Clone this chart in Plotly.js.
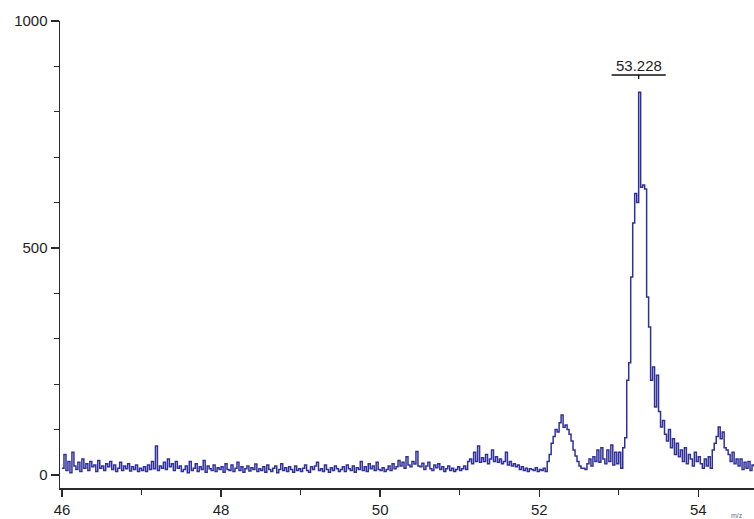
<!DOCTYPE html>
<html>
<head>
<meta charset="utf-8">
<script src="https://cdn.plot.ly/plotly-3.0.1.min.js"></script>
<style>html,body{margin:0;padding:0;background:#fff;}#chart{width:754px;height:519px;}</style>
</head>
<body>
<div id="chart"></div>
<script>
// m/z sampling of the spectrum
const mzStart = 46.0;
const mzStep = 0.025;
// intensity values, 0.5 m/z per row
const intensity = [
  15, 45, 10, 30, 5, 50, 20, 12, 28, 8, 35, 15, 25, 10, 30, 18, 22, 8, 32, 15,
  20, 10, 25, 18, 30, 12, 22, 8, 15, 28, 10, 20, 14, 25, 9, 18, 12, 22, 8, 15,
  10, 18, 8, 22, 12, 30, 14, 64, 10, 20, 15, 28, 12, 35, 18, 25, 10, 30, 15, 20,
  8, 12, 20, 5, 30, 10, 15, 25, 8, 18, 12, 32, 6, 20, 14, 10, 22, 8, 16, 12,
  18, 6, 25, 12, 10, 22, 8, 15, 28, 10, 18, 6, 14, 20, 9, 16, 12, 24, 8, 14,
  10, 18, 6, 22, 12, 8, 15, 20, 5, 12, 25, 10, 16, 8, 18, 12, 6, 20, 10, 14,
  8, 15, 22, 10, 6, 18, 12, 20, 28, 10, 14, 8, 22, 12, 6, 16, 10, 20, 14, 8,
  12, 18, 8, 22, 14, 10, 20, 6, 16, 12, 30, 10, 18, 8, 25, 14, 20, 10, 28, 12,
  10, 16, 8, 12, 20, 10, 25, 14, 18, 32, 20, 28, 15, 40, 22, 18, 30, 24, 52, 20,
  18, 26, 12, 20, 28, 14, 10, 22, 16, 25, 12, 18, 8, 14, 20, 10, 15, 8, 12, 18,
  10, 14, 20, 12, 30, 35, 25, 50, 30, 64, 28, 38, 30, 45, 25, 35, 55, 30, 40, 28,
  35, 25, 30, 50, 22, 30, 20, 25, 18, 22, 12, 18, 10, 15, 8, 14, 12, 10, 16, 8,
  12, 10, 15, 8, 30, 45, 70, 85, 100, 95, 115, 132, 105, 110, 100, 90, 75, 55, 42, 30,
  20, 15, 15, 12, 25, 35, 20, 40, 30, 55, 28, 60, 35, 25, 55, 30, 66, 22, 50, 25,
  50, 15, 60, 82, 209, 247, 436, 555, 620, 600, 843, 634, 639, 630, 392, 326, 209, 238, 150, 220,
  140, 106, 120, 90, 75, 100, 60, 80, 45, 70, 40, 55, 30, 60, 25, 45, 35, 20, 50, 30,
  40, 25, 15, 35, 20, 40, 15, 55, 70, 85, 106, 80, 95, 60, 55, 45, 30, 50, 25, 35,
  20, 35, 12, 28, 15, 30, 10, 22, 18
];
const yTickVals = [0, 500, 1000];
const xTickVals = [46, 48, 50, 52, 54];

const mz = intensity.map((_, i) => +(mzStart + i * mzStep).toFixed(3));
let peakIdx = 0;
intensity.forEach((v, i) => { if (v > intensity[peakIdx]) peakIdx = i; });
const peakLabel = 53.228;

const lineColor = '#30309a';
const axisColor = '#2a2a2a';
const font = {family: 'Liberation Sans, Arial, sans-serif', size: 15, color: '#1e1e1e'};

const trace = {
  x: mz, y: intensity, type: 'scatter', mode: 'lines',
  line: {color: lineColor, width: 1.5, shape: 'hv'},
  hoverinfo: 'skip'
};

const bracketY = 881;
const layout = {
  width: 754, height: 519,
  margin: {l: 60, r: 0, t: 21, b: 31, pad: 0},
  paper_bgcolor: '#fff', plot_bgcolor: '#fff',
  showlegend: false,
  font: font,
  xaxis: {
    range: [45.975, 54.7], tickvals: xTickVals, ticktext: xTickVals.map(String),
    showgrid: false, zeroline: false, showline: true, linecolor: axisColor, linewidth: 1.5,
    ticks: 'outside', ticklen: 7, tickwidth: 1.3, tickcolor: axisColor,
    minor: {tickvals: [47, 49, 51, 53], ticks: 'outside', ticklen: 5, tickwidth: 1.3, tickcolor: axisColor},
    tickfont: font, fixedrange: true
  },
  yaxis: {
    range: [-28.6, 1000], tickvals: yTickVals, ticktext: yTickVals.map(String),
    showgrid: false, zeroline: false, showline: true, linecolor: axisColor, linewidth: 1.5,
    ticks: 'outside', ticklen: 8, tickwidth: 1.3, tickcolor: axisColor,
    minor: {dtick: 100, ticks: 'outside', ticklen: 5, tickwidth: 1.3, tickcolor: axisColor},
    tickfont: font, fixedrange: true
  },
  annotations: [
    {x: mz[peakIdx], y: bracketY, xref: 'x', yref: 'y', text: peakLabel.toFixed(3),
     showarrow: false, yanchor: 'bottom', yshift: -1, font: font},
    {x: 0.975, y: 0, xref: 'paper', yref: 'paper', text: 'm/z', showarrow: false,
     xanchor: 'center', yanchor: 'top', yshift: -22, font: {family: font.family, size: 7, color: '#6a6a8a'}}
  ],
  shapes: [
    {type: 'line', xref: 'x', yref: 'y', x0: mz[peakIdx] - 0.34, x1: mz[peakIdx] + 0.34,
     y0: bracketY, y1: bracketY, line: {color: '#111', width: 1.5}},
    {type: 'line', xref: 'x', yref: 'y', x0: mz[peakIdx], x1: mz[peakIdx],
     y0: bracketY, y1: bracketY - 9, line: {color: '#111', width: 1.3}}
  ]
};

Plotly.newPlot('chart', [trace], layout, {displayModeBar: false, staticPlot: true});
</script>
</body>
</html>
